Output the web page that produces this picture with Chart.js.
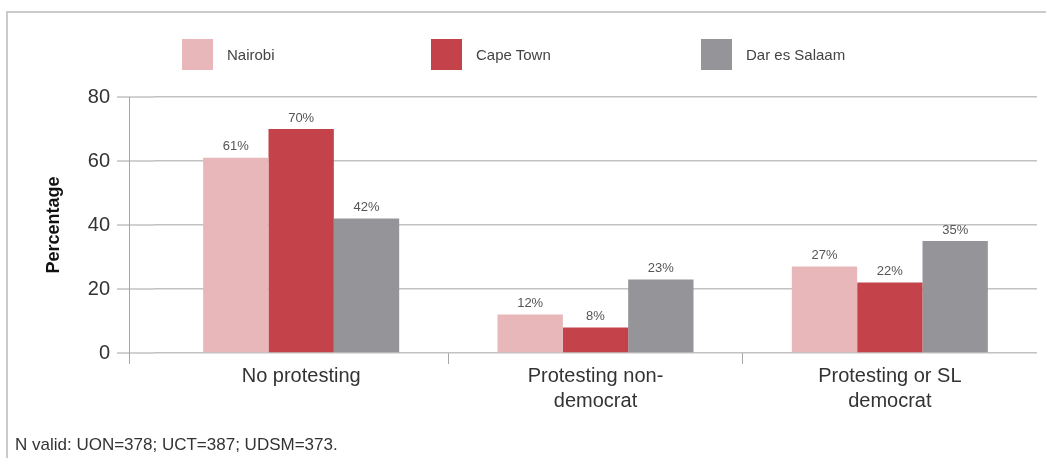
<!DOCTYPE html>
<html lang="en">

<head>
    <meta charset="UTF-8">
    <title>Protesting by city</title>
    <style>
        body { margin: 0; background: #fff; font-family: "Liberation Sans", Arial, sans-serif; }
        #wrap { position: relative; width: 1046px; height: 458px; overflow: hidden; }
        #frame { position: absolute; left: 6px; top: 11px; width: 1100px; height: 500px;
                 border-top: 2px solid #cbcbcb; border-left: 2px solid #cbcbcb; }
        #legend { position: absolute; left: 0; top: 39px; width: 100%; height: 31px; }
        .item { position: absolute; top: 0; height: 31px; display: flex; align-items: center; }
        .box { width: 31px; height: 31px; margin-right: 14px; }
        .item span { font-size: 15px; color: #444; }
        #note { position: absolute; left: 15px; top: 435px; font-size: 17px; color: #333; }
        canvas { position: absolute; left: 0; top: 0; }
    </style>
</head>

<body>
    <div id="wrap">
        <div id="frame"></div>
        <canvas id="myChart" width="1046" height="458"></canvas>
        <div id="legend"></div>
        <div id="note">N valid: UON=378; UCT=387; UDSM=373.</div>
    </div>
    <script src="https://cdn.jsdelivr.net/npm/chart.js"></script>
    <script>
        const categories = [['No protesting'], ['Protesting non-', 'democrat'], ['Protesting or SL', 'democrat']];
        const nairobi = [61, 12, 27];
        const capeTown = [70, 8, 22];
        const darEsSalaam = [42, 23, 35];
        const yTicks = [0, 20, 40, 60, 80];

        const colors = ['#e8b7b9', '#c4424a', '#959599'];
        const legendLeft = [182, 431, 701];

        // y axis line + tick stubs sit left of the plot area, like the original
        const axisExtras = {
            id: 'axisExtras',
            afterDraw(chart) {
                const { ctx, chartArea, scales } = chart;
                ctx.save();
                ctx.strokeStyle = '#c2c2c2';
                ctx.lineWidth = 1.5;
                yTicks.forEach(v => {
                    const y = scales.y.getPixelForValue(v);
                    ctx.beginPath();
                    ctx.moveTo(117, y);
                    ctx.lineTo(chartArea.left, y);
                    ctx.stroke();
                });
                ctx.strokeStyle = '#a6a6a6';
                ctx.lineWidth = 1;
                ctx.beginPath();
                ctx.moveTo(129.5, chartArea.top);
                ctx.lineTo(129.5, chartArea.bottom + 11);
                ctx.stroke();
                ctx.restore();
            }
        };

        // percentage labels above each bar
        const barLabels = {
            id: 'barLabels',
            afterDatasetsDraw(chart) {
                const { ctx } = chart;
                ctx.save();
                ctx.font = '13px "Liberation Sans", Arial, sans-serif';
                ctx.fillStyle = '#555';
                ctx.textAlign = 'center';
                ctx.textBaseline = 'middle';
                chart.data.datasets.forEach((ds, i) => {
                    chart.getDatasetMeta(i).data.forEach((bar, j) => {
                        ctx.fillText(ds.data[j] + '%', bar.x, bar.y - 11);
                    });
                });
                ctx.restore();
            }
        };

        const ctx = document.getElementById('myChart').getContext('2d');
        const chart = new Chart(ctx, {
            type: 'bar',
            data: {
                labels: categories,
                datasets: [
                    { label: 'Nairobi', data: nairobi, backgroundColor: colors[0] },
                    { label: 'Cape Town', data: capeTown, backgroundColor: colors[1] },
                    { label: 'Dar es Salaam', data: darEsSalaam, backgroundColor: colors[2] }
                ]
            },
            options: {
                responsive: false,
                animation: false,
                layout: { padding: { top: 97, right: 9, bottom: 35, left: 0 } },
                datasets: { bar: { categoryPercentage: 0.666, barPercentage: 1.0 } },
                plugins: {
                    legend: { display: false },
                    tooltip: { enabled: false }
                },
                scales: {
                    x: {
                        afterFit: (scale) => { scale.height = 70; },
                        border: { display: false },
                        grid: {
                            drawOnChartArea: false,
                            tickLength: 11,
                            lineWidth: 1,
                            color: (c) => (c.index === 1 || c.index === 2) ? '#a6a6a6' : 'rgba(0,0,0,0)'
                        },
                        ticks: {
                            padding: 0,
                            maxRotation: 0,
                            color: '#333',
                            font: { family: '"Liberation Sans", Arial, sans-serif', size: 20, lineHeight: 1.25 }
                        }
                    },
                    y: {
                        min: 0,
                        max: 80,
                        afterFit: (scale) => { scale.width = 154; },
                        afterBuildTicks: (scale) => { scale.ticks = yTicks.map(v => ({ value: v })); },
                        border: { display: false },
                        grid: { drawTicks: false, color: '#c2c2c2', lineWidth: 1.5 },
                        ticks: {
                            padding: 44,
                            color: '#333',
                            font: { family: '"Liberation Sans", Arial, sans-serif', size: 20 }
                        },
                        title: {
                            display: true,
                            text: 'Percentage',
                            color: '#111',
                            padding: { top: 43, bottom: 0 },
                            font: { family: '"Liberation Sans", Arial, sans-serif', size: 18, weight: 'bold' }
                        }
                    }
                }
            },
            plugins: [axisExtras, barLabels]
        });

        // legend built from the datasets, spaced like the original
        const legend = document.getElementById('legend');
        chart.data.datasets.forEach((ds, i) => {
            const item = document.createElement('div');
            item.className = 'item';
            item.style.left = legendLeft[i] + 'px';
            item.innerHTML = '<div class="box" style="background:' + ds.backgroundColor + '"></div><span>' + ds.label + '</span>';
            legend.appendChild(item);
        });
    </script>
</body>

</html>
